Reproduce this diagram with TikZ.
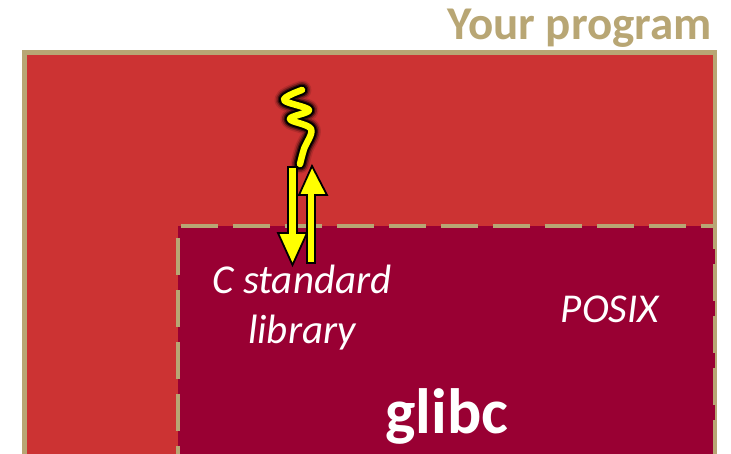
\documentclass[tikz,border=0pt]{standalone}
\usepackage{fontspec}
\setmainfont{Carlito}
\usetikzlibrary{positioning,calc}
\definecolor{gltan}{HTML}{B8A674}
\definecolor{glred}{HTML}{CC3333}
\definecolor{glwine}{HTML}{990033}
\definecolor{glyellow}{HTML}{FFFF00}
\tikzset{
  lbl/.style={text=white,font=\itshape\fontsize{41}{50}\selectfont,align=center,anchor=base,inner sep=0pt},
  callarrow/.style={fill=glyellow,draw=black,line width=1.8pt,line join=miter}
}

\begin{document}
\begin{tikzpicture}[x=1pt,y=-1pt]
    \useasboundingbox (0,0) rectangle (731,453);
    \clip (0,0) rectangle (731,453);
    % program box
    \draw[gltan,line width=4.5pt,fill=glred] (24.5,52.5) rectangle (715,470);
    \node[anchor=base east,text=gltan,font=\bfseries\fontsize{47}{52}\selectfont,inner sep=0pt]
      (prog) at (712,39){Your program};
    % glibc box
    \fill[glwine] (178,225.5) rectangle (714.5,470);
    \draw[gltan,line width=4pt,dash pattern=on 37pt off 15pt,dash phase=13pt]
      (178,470) -- (178,225.5) -- (714.5,225.5) -- (714.5,470);
    \node[lbl] (libc) at (302,343){C standard\\library};
    \node[lbl] (posix) at (610,322){POSIX};
    \node[text=white,font=\bfseries\fontsize{64}{70}\selectfont,anchor=base,inner sep=0pt]
      (glibc) at (447,433){glibc};
    % syscall squiggle
    \coordinate (sqtop) at (302,90);
    \coordinate (sqbot) at (300,164);
    \foreach \w/\o in {19/0.12,16/0.25,13/0.5,10.5/1}
      \draw[black,opacity=\o,line width=\w pt,line cap=round,line join=round]
        plot[smooth,tension=0.6] coordinates {(sqtop) (284,100) (309,110) (290,119) (311,129) (304,149) (sqbot)};
    \draw[glyellow,line width=6.5pt,line cap=round,line join=round]
      plot[smooth,tension=0.6] coordinates {(sqtop) (284,100) (309,110) (290,119) (311,129) (304,149) (sqbot)};
    % down / up arrows
    \draw[callarrow] (288,167) -- (297,167) -- (297,233) -- (307,233) -- (292.5,265)
      -- (278,233) -- (288,233) -- cycle;
    \draw[callarrow] (307,263) -- (315,263) -- (315,195) -- (327,195) -- (312,166)
      -- (299,195) -- (307,195) -- cycle;
  \end{tikzpicture}
\end{document}
